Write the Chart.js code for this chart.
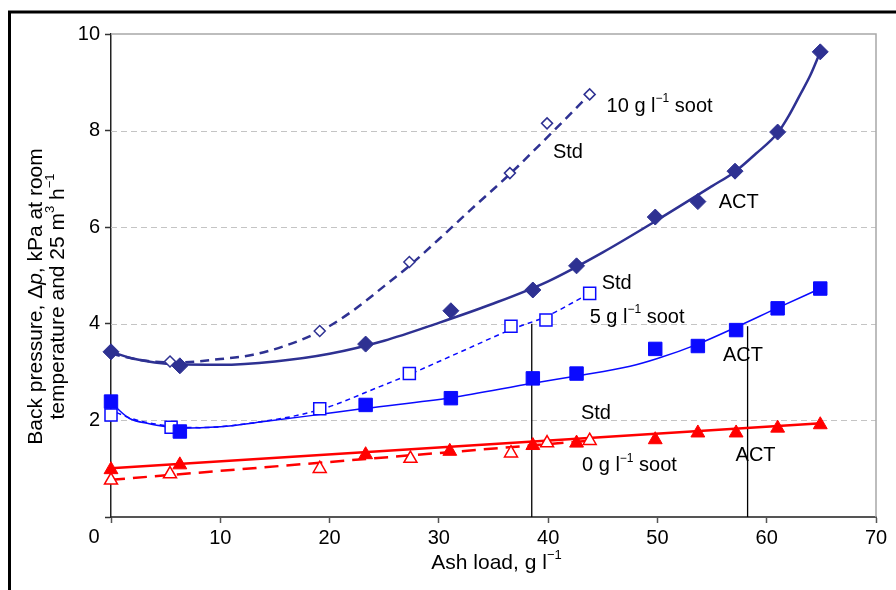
<!DOCTYPE html>
<html>
<head>
<meta charset="utf-8">
<script src="https://cdn.jsdelivr.net/npm/chart.js@4.4.0/dist/chart.umd.min.js"></script>
<style>
  html, body { margin: 0; padding: 0; background: #fff; }
  #wrap { width: 896px; height: 590px; }
</style>
</head>
<body>
<div id="wrap"><canvas id="bp" width="896" height="590"></canvas></div>
<script>
// measured points: ash load (g/l) vs back pressure (kPa)
const ash10Act = [0, 6.3, 23.3, 31.1, 38.6, 42.6, 49.8, 53.7, 57.1, 61.0, 64.9];
const dp10Act  = [3.42, 3.13, 3.58, 4.27, 4.70, 5.20, 6.21, 6.53, 7.16, 7.97, 9.63];
const ash10Std = [0, 5.4, 19.1, 27.3, 36.5, 39.9, 43.8];
const dp10Std  = [3.40, 3.22, 3.85, 5.28, 7.12, 8.15, 8.75];
const ash5Act  = [0, 6.3, 23.3, 31.1, 38.6, 42.6, 49.8, 53.7, 57.2, 61.0, 64.9];
const dp5Act   = [2.39, 1.77, 2.32, 2.46, 2.87, 2.97, 3.48, 3.54, 3.87, 4.32, 4.73];
const ash5Std  = [0, 5.5, 19.1, 27.3, 36.6, 39.8, 43.8];
const dp5Std   = [2.11, 1.86, 2.24, 2.97, 3.95, 4.08, 4.63];
const ash0Act  = [0, 6.3, 23.3, 31.0, 38.6, 42.6, 49.8, 53.7, 57.2, 61.0, 64.9];
const dp0Act   = [0.98, 1.08, 1.29, 1.36, 1.48, 1.53, 1.60, 1.74, 1.74, 1.84, 1.91];
const ash0Std  = [0, 5.4, 19.1, 27.4, 36.6, 39.9, 43.8];
const dp0Std   = [0.76, 0.89, 1.00, 1.21, 1.32, 1.53, 1.58];

// trend curves
const fitX10Act = [0, 2, 4, 6, 10, 15, 20, 25, 30, 35, 40, 45, 50, 55, 57.1, 59, 61, 62, 63, 64, 64.9];
const fitY10Act = [3.42, 3.28, 3.2, 3.16, 3.15, 3.22, 3.38, 3.65, 4.02, 4.42, 4.88, 5.48, 6.15, 6.85, 7.15, 7.52, 7.95, 8.3, 8.72, 9.15, 9.63];
const fitX10Std = [0, 3, 6, 10, 13, 16, 19.1, 22, 25, 27.3, 30, 33, 36.5, 40, 43.8];
const fitY10Std = [3.38, 3.24, 3.2, 3.27, 3.36, 3.55, 3.84, 4.25, 4.78, 5.2, 5.75, 6.38, 7.1, 7.88, 8.75];
const fitX5Act  = [0, 0.8, 1.7, 3.5, 5.1, 6.3, 10, 14.2, 19, 23.3, 31.1, 38.6, 42.6, 47.5, 50, 53.7, 57.2, 61, 64.9];
const fitY5Act  = [2.39, 2.2, 2.04, 1.93, 1.87, 1.84, 1.87, 1.98, 2.12, 2.25, 2.47, 2.77, 2.92, 3.12, 3.28, 3.58, 3.93, 4.33, 4.73];
const fitX5Std  = [0.5, 2, 5.1, 8.1, 12.7, 19.1, 24.6, 27.3, 32, 36.6, 39.8, 43.8];
const fitY5Std  = [2.16, 2.03, 1.89, 1.85, 1.94, 2.22, 2.7, 2.95, 3.42, 3.88, 4.15, 4.63];
const fitX0Act  = [0, 65];
const fitY0Act  = [1.01, 1.94];
const fitX0Std  = [0, 43.8];
const fitY0Std  = [0.77, 1.58];

// drop lines
const markX   = [38.5, 58.25];
const markTop = [4.0, 3.95];

const yGrid = [2, 4, 6, 8];

// curve labels ("^...^" = superscript)
const noteText = ['10 g l^−1^ soot', 'Std', 'ACT', 'Std', '5 g l^−1^ soot', 'ACT', 'Std', '0 g l^−1^ soot', 'ACT'];
const noteX    = [45.35, 40.44, 55.6, 44.9, 43.8, 56.0, 43.0, 43.1, 57.15];
const noteY    = [8.5, 7.54, 6.52, 4.84, 4.14, 3.35, 2.15, 1.06, 1.28];

const FONT = '"Liberation Sans", Arial, sans-serif';
const NAVY = '#2e3192', BLUE = '#0a0aff', RED = '#ff0000';

const pts = (xs, ys) => xs.map((x, i) => ({ x, y: ys[i] }));

function curve(xs, ys, color, width, dash) {
  return {
    data: pts(xs, ys), showLine: true, borderColor: color, borderWidth: width,
    borderDash: dash || [], pointRadius: 0, cubicInterpolationMode: 'monotone', order: 2
  };
}
function marks(xs, ys, style, radius, color, filled) {
  return {
    data: pts(xs, ys), showLine: false, pointStyle: style, pointRadius: radius,
    pointBackgroundColor: filled ? color : '#fff', pointBorderColor: color,
    pointBorderWidth: filled ? 1 : 1.5, order: 1, clip: false
  };
}

// earlier datasets are painted last, so the filled markers sit on top
const datasets = [
  marks(ash10Act, dp10Act, 'rectRot', 8, NAVY, true),
  marks(ash5Act, dp5Act, 'rect', 9.5, BLUE, true),
  marks(ash0Act, dp0Act, 'triangle', 8, RED, true),
  marks(ash10Std, dp10Std, 'rectRot', 5.5, NAVY, false),
  marks(ash5Std, dp5Std, 'rect', 8.5, BLUE, false),
  marks(ash0Std, dp0Std, 'triangle', 7.5, RED, false),
  curve(fitX10Act, fitY10Act, NAVY, 2.5),
  curve(fitX10Std, fitY10Std, NAVY, 2.5, [9, 6]),
  curve(fitX5Act, fitY5Act, BLUE, 1.5),
  curve(fitX5Std, fitY5Std, BLUE, 1.5, [5, 4]),
  curve(fitX0Act, fitY0Act, RED, 2.5),
  curve(fitX0Std, fitY0Std, RED, 2.5, [14, 8])
];
markX.forEach((x, i) => {
  datasets.push({
    data: [{ x, y: 0 }, { x, y: markTop[i] }], showLine: true,
    borderColor: '#000', borderWidth: 1.3, pointRadius: 0, order: 3
  });
});

function richWidth(ctx, str, size) {
  let w = 0;
  str.split('^').forEach((seg, i) => {
    ctx.font = (i % 2 ? Math.round(size * 0.62) : size) + 'px ' + FONT;
    w += ctx.measureText(seg.replace(/_/g, '')).width;
  });
  return w;
}
function drawRich(ctx, str, x, y, size, align) {
  let cx = align === 'center' ? x - richWidth(ctx, str, size) / 2 : x;
  ctx.textAlign = 'left';
  ctx.textBaseline = 'middle';
  str.split('^').forEach((seg, i) => {
    const sup = i % 2 === 1;
    seg.split('_').forEach((p, j) => {
      ctx.font = (j % 2 ? 'italic ' : '') + (sup ? Math.round(size * 0.62) : size) + 'px ' + FONT;
      ctx.fillText(p, cx, sup ? y - size * 0.38 : y);
      cx += ctx.measureText(p).width;
    });
  });
}

const decor = {
  id: 'decor',
  beforeDatasetsDraw(chart) {
    const { ctx, chartArea: a, scales: { x, y } } = chart;
    ctx.save();
    ctx.strokeStyle = '#c4c4c4';
    ctx.lineWidth = 1.2;
    ctx.setLineDash([6, 4]);
    yGrid.forEach(v => {
      const py = Math.round(y.getPixelForValue(v)) + 0.5;
      ctx.beginPath(); ctx.moveTo(a.left, py); ctx.lineTo(a.right, py); ctx.stroke();
    });
    ctx.setLineDash([]);
    ctx.strokeStyle = '#a8a8a8';
    ctx.lineWidth = 1.5;
    ctx.beginPath();
    ctx.moveTo(a.left, y.getPixelForValue(10));
    ctx.lineTo(x.getPixelForValue(70), y.getPixelForValue(10));
    ctx.lineTo(x.getPixelForValue(70), a.bottom);
    ctx.stroke();
    ctx.restore();
  },
  afterDraw(chart) {
    const { ctx, chartArea: a, scales: { x, y } } = chart;
    ctx.save();
    ctx.fillStyle = '#000';
    noteText.forEach((t, i) => drawRich(ctx, t, x.getPixelForValue(noteX[i]), y.getPixelForValue(noteY[i]), 20, 'left'));

    // shared origin label
    ctx.font = '20px ' + FONT;
    ctx.textAlign = 'center';
    ctx.textBaseline = 'middle';
    ctx.fillText('0', a.left - 17, a.bottom + 20);

    // axis titles
    drawRich(ctx, 'Ash load, g l^−1^', (a.left + a.right) / 2 + 3, a.bottom + 46, 21, 'center');
    const cy = (a.top + a.bottom) / 2 + 21;
    ctx.translate(36, cy);
    ctx.rotate(-Math.PI / 2);
    drawRich(ctx, 'Back pressure, Δ_p_, kPa at room', 0, 0, 21, 'center');
    drawRich(ctx, 'temperature and 25 m^3^ h^−1^', 0, 22, 21, 'center');
    ctx.restore();

    // outer frame
    ctx.save();
    ctx.strokeStyle = '#000';
    ctx.lineWidth = 3;
    ctx.beginPath();
    ctx.moveTo(9.5, 590); ctx.lineTo(9.5, 12); ctx.lineTo(896, 12);
    ctx.stroke();
    ctx.restore();
  }
};

new Chart(document.getElementById('bp').getContext('2d'), {
  type: 'scatter',
  data: { datasets },
  options: {
    responsive: false,
    animation: false,
    layout: { padding: { left: 0, top: 34, right: 20, bottom: 0 } },
    plugins: { legend: { display: false }, tooltip: { enabled: false } },
    scales: {
      x: {
        type: 'linear', min: 0, max: 70,
        afterFit(s) { s.height = 73; },
        ticks: { stepSize: 10, color: '#000', padding: 3, font: { family: FONT, size: 20 },
                 callback: v => v === 0 ? '' : v },
        grid: { drawOnChartArea: false, tickLength: 6, tickColor: '#555', tickWidth: 1.5 },
        border: { color: '#555', width: 2 }
      },
      y: {
        min: 0, max: 10,
        afterFit(s) { s.width = 111; },
        ticks: { stepSize: 2, color: '#000', padding: 5, font: { family: FONT, size: 20 },
                 callback: v => v === 0 ? '' : v },
        grid: { drawOnChartArea: false, tickLength: 6, tickColor: '#333', tickWidth: 1.5 },
        border: { color: '#222', width: 1.5 }
      }
    }
  },
  plugins: [decor]
});
</script>
</body>
</html>
